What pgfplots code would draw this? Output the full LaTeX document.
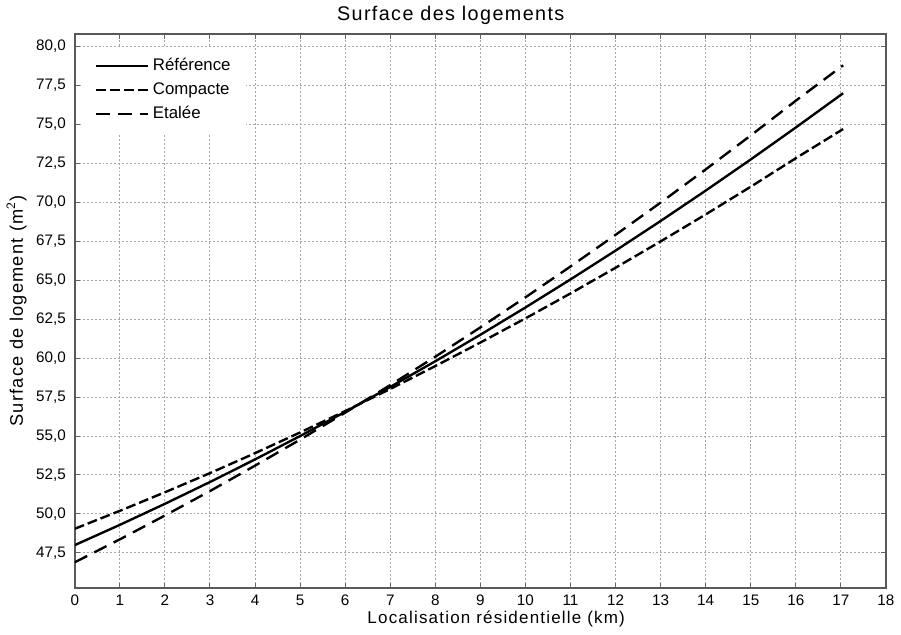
\documentclass[border=0pt]{standalone}
\usepackage{pgfplots}
\pgfplotsset{compat=1.18}
\usepackage{fontspec}
\setmainfont{Liberation Sans}
\newfontfamily\lsfont[LetterSpace=7]{Liberation Sans}

% valeurs (x en km, y en m2)
\pgfplotstableread{
x     ref    comp   etal
0     48.0   49.05  46.9
1     49.3   50.2   48.37
2     50.65  51.39  49.9
3     52.05  52.62  51.47
4     53.5   53.9   53.1
5     55.0   55.23  54.77
6     56.55  56.6   56.5
7     58.15  58.02  58.27
8     59.8   59.49  60.09
9     61.5   61.0   61.97
10    63.25  62.55  63.9
11    65.05  64.15  65.88
12    66.9   65.8   67.91
13    68.8   67.49  69.98
14    70.75  69.22  72.11
15    72.75  71.0   74.29
16    74.8   72.83  76.52
17.05 77.0   74.7   78.79
}\surfaces

\begin{document}
\begin{tikzpicture}
\begin{axis}[
  scale only axis,
  width=410pt, height=280pt,
  xmin=0, xmax=18, ymin=45.25, ymax=80.8,
  xtick={0,1,...,18},
  ytick={47.5,50,...,80},
  tick align=inside,
  major tick length=2.5pt,
  grid=major,
  major grid style={dash pattern=on 1pt off 1pt, gray!70, line width=0.5pt},
  axis line style={black!65, line width=0.9pt},
  tick style={black!60, line width=0.5pt},
  yticklabel style={xshift=-1pt, /pgf/number format/.cd, fixed, fixed zerofill, precision=1, use comma, assume math mode=true},
  xticklabel style={/pgf/number format/assume math mode=true},
  ticklabel style={font=\fontsize{7.7}{9}\selectfont},
  title={Surface des logements},
  title style={font=\lsfont\fontsize{10}{12}\selectfont, yshift=-5pt, xshift=-15pt},
  xlabel={Localisation résidentielle (km)},
  ylabel={Surface de logement (m$^{\mathsf{2}}$)},
  xlabel style={font=\lsfont\fontsize{8.6}{10}\selectfont, yshift=4pt, xshift=8pt},
  ylabel style={font=\lsfont\fontsize{9.2}{11}\selectfont, yshift=-2pt},
  legend style={at={(0.01,0.978)}, anchor=north west, draw=none, fill=white,
    font=\fontsize{8.5}{10}\selectfont, row sep=0.5pt, inner xsep=6pt, inner ysep=4pt},
  legend cell align=left,
  legend image code/.code={\draw[#1] (0pt,0pt) -- (26pt,0pt);},
]
\addplot[black, line width=1.2pt] table[x=x, y=ref] {\surfaces};
\addlegendentry{Référence}
\addplot[black, line width=1.2pt, dash pattern=on 5pt off 2pt] table[x=x, y=comp] {\surfaces};
\addlegendentry{Compacte}
\addplot[black, line width=1.2pt, dash pattern=on 7pt off 4pt] table[x=x, y=etal] {\surfaces};
\addlegendentry{Etalée}
\end{axis}
\end{tikzpicture}
\end{document}
